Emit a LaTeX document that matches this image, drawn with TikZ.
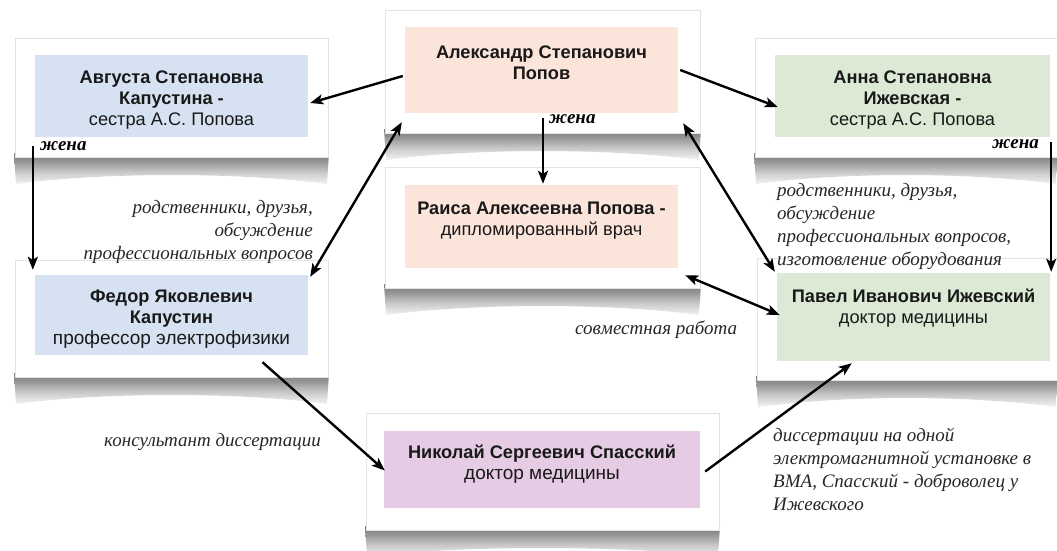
\documentclass[tikz,border=0pt]{standalone}
\usepackage{fontspec}
\setmainfont{Liberation Sans}
\newfontfamily\labfont{Liberation Serif}
\usetikzlibrary{arrows.meta,calc}
\definecolor{cblue}{RGB}{214,226,242}
\definecolor{cpink}{RGB}{251,228,218}
\definecolor{cgreen}{RGB}{220,234,213}
\definecolor{cviolet}{RGB}{229,204,228}
\pgfdeclareverticalshading{cshade}{100bp}{color(0bp)=(white); color(20bp)=(white); color(45bp)=(black!22); color(62bp)=(black!42); color(75bp)=(black!52); color(100bp)=(black!52)}
\newcommand\cshadow[3]{%
  \shade[shading=cshade]
    (#1-1,#3-4) -- (#2+1,#3-4) -- (#2-1,#3+27)
    .. controls (#2-90,#3+15) and (#1+90,#3+15) .. (#1+1,#3+27) -- cycle;}
\tikzset{
  card/.style={fill=white, draw=gray!22, line width=0.8pt, inner sep=0pt},
  pbox/.style={inner sep=0pt, draw=none},
  ptext/.style={align=center, inner sep=0pt, font=\fontsize{18.2}{20.8}\selectfont, text=black!90},
  lab/.style={inner sep=0pt, font=\labfont\itshape\fontsize{19}{23}\selectfont, text=black!85},
  wife/.style={inner sep=0pt, font=\labfont\bfseries\itshape\fontsize{19}{20}\selectfont},
  conn/.style={line width=2.4pt, -{Stealth[length=13pt,width=10pt,inset=3pt]}},
  dconn/.style={line width=2.4pt, {Stealth[length=13pt,width=10pt,inset=3pt]}-{Stealth[length=13pt,width=10pt,inset=3pt]}}
}
\begin{document}
\begin{tikzpicture}[x=1pt,y=-1pt]
\useasboundingbox (0,0) rectangle (1057,550);
% shadows
\cshadow{15}{328}{157}
\cshadow{385}{700}{133}
\cshadow{385}{700}{288}
\cshadow{755}{1057}{157}
\cshadow{15}{328}{377}
\cshadow{757}{1057}{380}
\cshadow{366}{719}{530}
% cards
\node[card, minimum width=313pt, minimum height=119pt] (c1) at (171.5,97.5) {};
\node[card, minimum width=315pt, minimum height=123pt] (c2) at (542.5,71.5) {};
\node[card, minimum width=315pt, minimum height=121pt] (c3) at (542.5,227.5) {};
\node[card, minimum width=304pt, minimum height=119pt] (c4) at (907,97.5) {};
\node[card, minimum width=313pt, minimum height=117pt] (c5) at (171.5,318.5) {};
\node[card, minimum width=302pt, minimum height=122pt] (c6) at (908,319) {};
\node[card, minimum width=353pt, minimum height=117pt] (c7) at (542.5,471.5) {};
% coloured boxes
\node[pbox, fill=cblue, minimum width=273pt, minimum height=82pt] (aug) at (171.5,96) {};
\node[pbox, fill=cpink, minimum width=273pt, minimum height=86pt] (alex) at (541.5,70) {};
\node[pbox, fill=cpink, minimum width=273pt, minimum height=83pt] (rai) at (541.5,226.5) {};
\node[pbox, fill=cgreen, minimum width=275pt, minimum height=82pt] (anna) at (912.5,96) {};
\node[pbox, fill=cblue, minimum width=273pt, minimum height=80pt] (fed) at (171.5,315) {};
\node[pbox, fill=cgreen, minimum width=273pt, minimum height=88pt] (pav) at (913.5,317) {};
\node[pbox, fill=cviolet, minimum width=316pt, minimum height=77pt] (sp) at (542,469.5) {};
% box texts
\node[ptext] (taug) at (171.5,100) {\textbf{Августа Степановна}\\\textbf{Капустина -}\\сестра А.С. Попова};
\node[ptext] (talex) at (541.5,63) {\textbf{Александр Степанович}\\\textbf{Попов}};
\node[ptext] (trai) at (541.5,221) {\textbf{Раиса Алексеевна Попова -}\\дипломированный врач};
\node[ptext] (tanna) at (912.5,100) {\textbf{Анна Степановна}\\\textbf{Ижевская -}\\сестра А.С. Попова};
\node[ptext] (tfed) at (171.5,319) {\textbf{Федор Яковлевич}\\\textbf{Капустин}\\{\fontsize{19}{20.8}\selectfont профессор электрофизики}};
\node[ptext] (tpav) at (913.5,308) {\textbf{Павел Иванович Ижевский}\\доктор медицины};
\node[ptext] (tsp) at (542,464) {\textbf{Николай Сергеевич Спасский}\\{\fontsize{19}{20.8}\selectfont доктор медицины}};
% labels
\node[wife, anchor=west] (w1) at (40,146) {жена};
\node[wife, anchor=west] (w2) at (549,119) {жена};
\node[wife, anchor=east] (w3) at (1039,144) {жена};
\node[lab, align=right, anchor=north east] (l1) at (313,200.5) {родственники, друзья,\\обсуждение\\профессиональных вопросов};
\node[lab, align=left, anchor=north west] (l2) at (777,183.5) {родственники, друзья,\\обсуждение\\профессиональных вопросов,\\изготовление оборудования};
\node[lab, anchor=west] (l3) at (575,330) {совместная работа};
\node[lab, anchor=west] (l4) at (104,442) {консультант диссертации};
\node[lab, align=left, anchor=north west] (l5) at (773,427.5) {диссертации на одной\\электромагнитной установке в\\ВМА, Спасский - доброволец у\\Ижевского};
% connectors
\draw[conn] ($(alex.west)+(-2,6)$) -- ($(aug.east)+(2,7)$);
\draw[conn] ($(alex.east)+(2,0)$) -- ($(anna.west)+(3,11)$);
\draw[conn] ($(aug.south west)+(-2,9)$) -- ($(fed.north west)+(-2,-5)$);
\draw[dconn] ($(alex.south west)+(-3,9)$) -- ($(fed.north east)+(2,2)$);
\draw[dconn] ($(alex.south east)+(5,10)$) -- ($(pav.north west)+(-2,-1)$);
\draw[conn] ($(alex.south)+(1.5,5)$) -- ($(rai.north)+(1.5,-1)$);
\draw[dconn] ($(rai.south east)+(7,7)$) -- ($(pav.west)+(3,-2)$);
\draw[conn] ($(anna.south east)+(1,5)$) -- ($(pav.north east)+(1,-1)$);
\draw[conn] ($(fed.south)+(91,7)$) -- ($(sp.west)+(1,1)$);
\draw[conn] ($(sp.east)+(5,2)$) -- ($(pav.south west)+(75,2)$);
\end{tikzpicture}
\end{document}
